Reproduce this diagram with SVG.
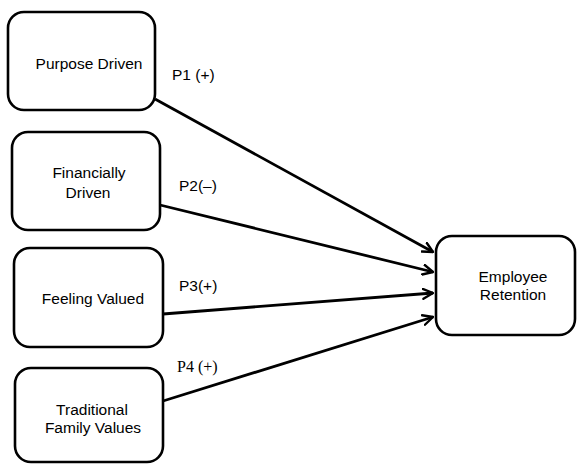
<svg xmlns="http://www.w3.org/2000/svg" width="577" height="464" viewBox="0 0 577 464">
<style>
.box{fill:#fff;stroke:#000;stroke-width:2.6}
.t{font-family:"Liberation Sans",Arial,sans-serif;font-size:15.5px;fill:#000;text-anchor:middle}
.l{font-family:"Liberation Sans",Arial,sans-serif;font-size:15.5px;fill:#000}
.s{font-family:"Liberation Serif","Times New Roman",serif;font-size:16px;fill:#000}
.c{stroke:#000;stroke-width:2.8;fill:none}
</style>
<defs>
<marker id="arr" viewBox="0 0 12 12" refX="11" refY="6" markerWidth="12" markerHeight="12" markerUnits="userSpaceOnUse" orient="auto">
<path d="M1,1 L11,6 L1,11" fill="none" stroke="#000" stroke-width="2.4" stroke-linecap="round" stroke-linejoin="round"/>
</marker>
</defs>
<g id="connectors">
<line class="c" x1="155" y1="99" x2="433" y2="252" marker-end="url(#arr)"/>
<line class="c" x1="160" y1="205" x2="433" y2="272" marker-end="url(#arr)"/>
<line class="c" x1="163" y1="314" x2="433" y2="293" marker-end="url(#arr)"/>
<line class="c" x1="163" y1="401" x2="433" y2="317" marker-end="url(#arr)"/>
<text class="l" x="172" y="80">P1 (+)</text>
<text class="l" x="179" y="191">P2(–)</text>
<text class="l" x="179" y="291">P3(+)</text>
<text class="s" x="177" y="372">P4 (+)</text>
</g>
<g id="purpose">
<rect class="box" x="8" y="12" width="147" height="98" rx="16"/>
<text class="t" x="89" y="69">Purpose Driven</text>
</g>
<g id="financial">
<rect class="box" x="12" y="132" width="148" height="98" rx="16"/>
<text class="t" x="89" y="178">Financially</text>
<text class="t" x="88" y="198">Driven</text>
</g>
<g id="feeling">
<rect class="box" x="14" y="248" width="149" height="99" rx="16"/>
<text class="t" x="93" y="304">Feeling Valued</text>
</g>
<g id="traditional">
<rect class="box" x="15" y="368" width="148" height="94" rx="16"/>
<text class="t" x="92" y="415">Traditional</text>
<text class="t" x="93" y="433">Family Values</text>
</g>
<g id="retention">
<rect class="box" x="436" y="236" width="139" height="99" rx="16"/>
<text class="t" x="513" y="282">Employee</text>
<text class="t" x="513" y="300">Retention</text>
</g>
</svg>
